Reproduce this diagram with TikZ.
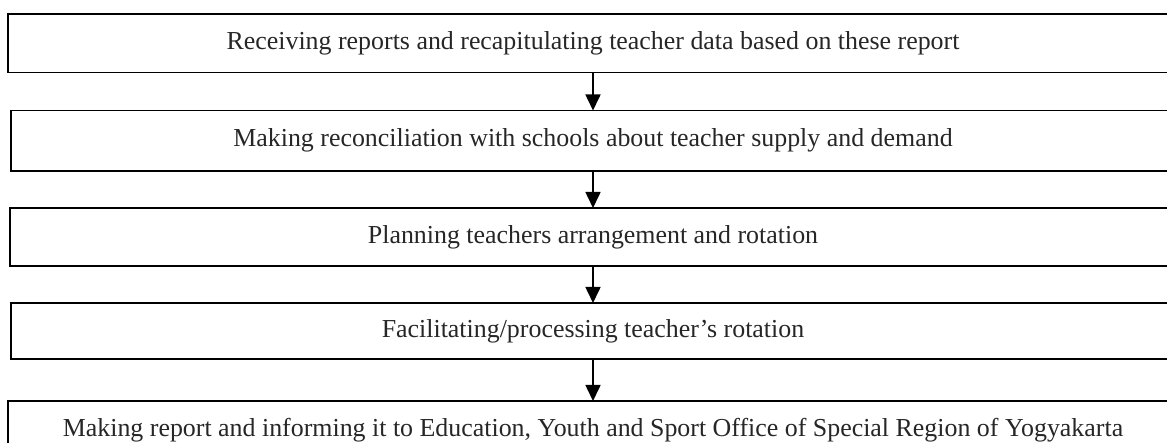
\documentclass[tikz,border=0pt]{standalone}
\usepackage{fontspec}
\setmainfont{Liberation Serif}
\usetikzlibrary{arrows.meta}
\begin{document}
\begin{tikzpicture}[x=1pt,y=-1pt,
  stepbox/.style={draw=black,line width=1.6pt,inner sep=0pt,outer sep=0pt,
    minimum height=#1,font=\fontsize{25.9}{30}\selectfont,text=black!85},
  flow/.style={line width=1.6pt,-{Triangle[length=16pt,width=15pt]}}]
\useasboundingbox (0,0) rectangle (1167,443);
\clip (0,0) rectangle (1167,443);
\node[stepbox=58.5pt,minimum width=1170pt] (b1) at (593,43.25)
  {Receiving reports and recapitulating teacher data based on these report};
\node[stepbox=60.5pt,minimum width=1164pt] (b2) at (593,140.75)
  {Making reconciliation with schools about teacher supply and demand};
\node[stepbox=58pt,minimum width=1166pt] (b3) at (593,237)
  {Planning teachers arrangement and rotation};
\node[stepbox=56pt,minimum width=1164pt] (b4) at (593,331)
  {Facilitating/processing teacher’s rotation};
\node[stepbox=58pt,minimum width=1170pt] (b5) at (593,430)
  {Making report and informing it to Education, Youth and Sport Office of Special Region of Yogyakarta};
\draw[flow] (b1.south) -- (b2.north);
\draw[flow] (b2.south) -- (b3.north);
\draw[flow] (b3.south) -- (b4.north);
\draw[flow] (b4.south) -- (b5.north);
\end{tikzpicture}
\end{document}
